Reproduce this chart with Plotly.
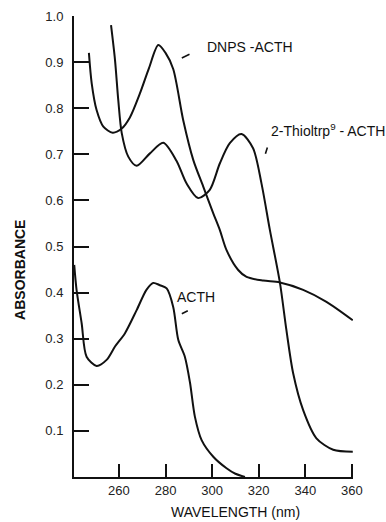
import plotly.graph_objects as go

# DNPS-ACTH
dnps_x = [247.1, 248.3, 250.4, 253.3, 257.3, 261.2, 264.7, 269.0, 272.9, 276.9, 280.0, 283.3,
          287.6, 291.9, 296.2, 300.5, 303.3, 306.2, 311.2, 314.8, 321.9, 329.1, 339.1, 349.1, 360.4]
dnps_y = [0.920, 0.854, 0.796, 0.760, 0.747, 0.756, 0.780, 0.832, 0.887, 0.937, 0.920, 0.885,
          0.774, 0.688, 0.630, 0.572, 0.536, 0.492, 0.449, 0.434, 0.426, 0.422, 0.406, 0.380, 0.340]

# 2-Thioltrp9-ACTH
thio_x = [256.6, 258.3, 259.7, 261.2, 264.0, 267.6, 273.3, 279.0, 284.7, 289.0, 294.0, 299.0,
          303.3, 307.6, 312.6, 317.6, 321.2, 324.8, 329.1, 331.9, 334.8, 339.1, 344.8, 352.0, 360.4]
thio_y = [0.980, 0.905, 0.818, 0.746, 0.695, 0.675, 0.702, 0.725, 0.686, 0.637, 0.605, 0.623,
          0.680, 0.724, 0.744, 0.713, 0.637, 0.536, 0.422, 0.319, 0.225, 0.145, 0.084, 0.059, 0.055]

# ACTH
acth_x = [240.8, 241.8, 244.0, 246.1, 250.4, 254.7, 258.3, 262.6, 267.6, 271.8, 274.7, 277.6,
          280.5, 283.3, 285.5, 288.3, 290.5, 292.6, 295.5, 300.5, 306.2, 310.0, 314.1]
acth_y = [0.460, 0.406, 0.333, 0.261, 0.241, 0.254, 0.283, 0.312, 0.362, 0.406, 0.421, 0.416,
          0.409, 0.369, 0.297, 0.261, 0.205, 0.131, 0.080, 0.044, 0.019, 0.007, 0.000]

x_ticks = [260, 280, 300, 320, 340, 360]
y_ticks = [0.1, 0.2, 0.3, 0.4, 0.5, 0.6, 0.7, 0.8, 0.9, 1.0]
y_ticktext = ["0.1", "0.2", "0.3", "0.4", "0.5", "0.6", "0.7", "0.8", "0.9", "1.0"]

x_title = "WAVELENGTH (nm)"
y_title = "<b>ABSORBANCE</b>"

label_texts = ["DNPS -ACTH", "2-Thioltrp<sup>9</sup> - ACTH", "ACTH"]
label_tip_x = [287.0, 322.9, 287.0]
label_tip_y = [0.909, 0.701, 0.354]

fig = go.Figure()
for xs, ys in [(dnps_x, dnps_y), (thio_x, thio_y), (acth_x, acth_y)]:
    fig.add_trace(go.Scatter(x=xs, y=ys, mode="lines",
                             line=dict(color="#111", width=2, shape="spline", smoothing=0.8),
                             showlegend=False, hoverinfo="skip"))

font = "Liberation Sans, Arial, sans-serif"
# (ax, ay, xanchor, yanchor, startstandoff)
arrow_style = [(23, -11, "left", "middle", 17),
               (4, -13, "left", "bottom", 7),
               (14, -7, "center", "bottom", 9)]
for text, tx, ty, (ax, ay, xa, ya, sso) in zip(label_texts, label_tip_x, label_tip_y, arrow_style):
    fig.add_annotation(x=tx, y=ty, text=text, showarrow=True, ax=ax, ay=ay,
                       xanchor=xa, yanchor=ya, arrowhead=0, arrowwidth=1.6,
                       arrowcolor="#111", standoff=0, startstandoff=sso,
                       font=dict(family=font, size=14, color="#111"))

# axis titles (placed like the original, slightly off-centre)
fig.add_annotation(xref="paper", yref="paper", x=0.58, y=-0.076, text=x_title,
                   showarrow=False, xanchor="center", yanchor="middle",
                   font=dict(family=font, size=14, color="#111"))
fig.add_annotation(xref="paper", yref="paper", x=-0.194, y=0.449, text=y_title,
                   showarrow=False, textangle=-90, xanchor="center", yanchor="middle",
                   font=dict(family=font, size=14, color="#111"))

fig.update_layout(
    width=386, height=522,
    margin=dict(l=74, r=33, t=16, b=45),
    paper_bgcolor="white", plot_bgcolor="white",
    font=dict(family=font, color="#222"),
    xaxis=dict(range=[240.7, 360.5], tickvals=x_ticks, ticks="inside", ticklen=13,
               tickwidth=2, tickcolor="#111", showgrid=False, zeroline=False,
               showline=True, linecolor="#111", linewidth=2, layer="above traces",
               automargin=False, tickfont=dict(size=13, color="#222")),
    yaxis=dict(range=[0, 1.0], tickvals=y_ticks, ticktext=y_ticktext, ticks="inside",
               ticklen=15, tickwidth=2, tickcolor="#111", showgrid=False, zeroline=False,
               showline=True, linecolor="#111", linewidth=2, ticklabelstandoff=6,
               layer="above traces", automargin=False,
               tickfont=dict(size=13, color="#222")),
)
fig.write_html("out.html")
